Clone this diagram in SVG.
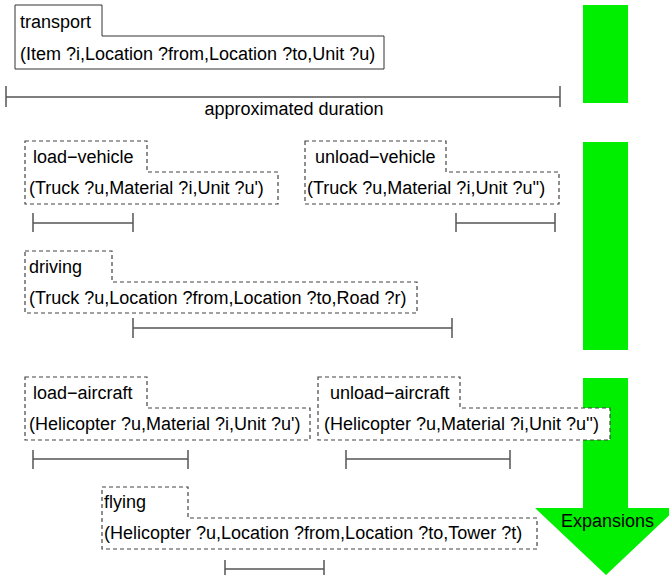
<svg xmlns="http://www.w3.org/2000/svg" width="669" height="575" viewBox="0 0 669 575">
<style>
text{font-family:"Liberation Sans",Arial,sans-serif;font-size:18px;fill:#000}
.solid{fill:#fff;stroke:#333;stroke-width:1}
.dash{fill:#fff;stroke:#444;stroke-width:1.2;stroke-dasharray:4,3}
.bar{fill:none;stroke:#555;stroke-width:1.5}
.green{fill:#00ee00;stroke:none}
</style>
<rect width="669" height="575" fill="#fff"/>
<g id="expansions">
<rect class="green" x="583" y="5" width="45" height="98"/>
<rect class="green" x="583" y="142" width="45" height="208"/>
<path class="green" d="M583,378 H628 V508 H677 L606,575 L535,508 H583 Z"/>
<text x="561" y="527">Expansions</text>
</g>
<g id="transport">
<path class="solid" d="M15,5 H102 V36 H384 V69 H15 Z"/>
<text x="20" y="28">transport</text>
<text x="20" y="60">(Item ?i,Location ?from,Location ?to,Unit ?u)</text>
</g>
<g id="load-vehicle">
<path class="dash" d="M25,141 H147 V172 H278 V204 H25 Z"/>
<text x="33" y="163">load−vehicle</text>
<text x="29" y="194">(Truck ?u,Material ?i,Unit ?u')</text>
</g>
<g id="unload-vehicle">
<path class="dash" d="M305,141 H446 V172 H559 V204 H305 Z"/>
<text x="315" y="163">unload−vehicle</text>
<text x="307" y="194">(Truck ?u,Material ?i,Unit ?u'')</text>
</g>
<g id="driving">
<path class="dash" d="M25,251 H112 V282 H417 V313 H25 Z"/>
<text x="29" y="273">driving</text>
<text x="29" y="304">(Truck ?u,Location ?from,Location ?to,Road ?r)</text>
</g>
<g id="load-aircraft">
<path class="dash" d="M25,377 H147 V408 H310 V440 H25 Z"/>
<text x="33" y="399">load−aircraft</text>
<text x="29" y="430">(Helicopter ?u,Material ?i,Unit ?u')</text>
</g>
<g id="unload-aircraft">
<path class="dash" d="M318,377 H460 V408 H610 V440 H318 Z"/>
<text x="330" y="399">unload−aircraft</text>
<text x="324" y="430">(Helicopter ?u,Material ?i,Unit ?u'')</text>
</g>
<g id="flying">
<path class="dash" d="M102,487 H188 V518 H537 V549 H102 Z"/>
<text x="104" y="508">flying</text>
<text x="104" y="539">(Helicopter ?u,Location ?from,Location ?to,Tower ?t)</text>
</g>
<g id="connectors">
<path class="bar" d="M6,86 V107 M6,97 H560 M560,86 V107"/>
<text x="294" y="115" text-anchor="middle">approximated duration</text>
<path class="bar" d="M33,213 V232 M33,223 H133 M133,213 V232"/>
<path class="bar" d="M456,213 V232 M456,223 H555 M555,213 V232"/>
<path class="bar" d="M133,318 V338 M133,328 H452 M452,318 V338"/>
<path class="bar" d="M33,450 V469 M33,459 H188 M188,450 V469"/>
<path class="bar" d="M346,450 V469 M346,459 H510 M510,450 V469"/>
<path class="bar" d="M225,560 V575 M225,569 H324 M324,560 V575"/>
</g>
</svg>
